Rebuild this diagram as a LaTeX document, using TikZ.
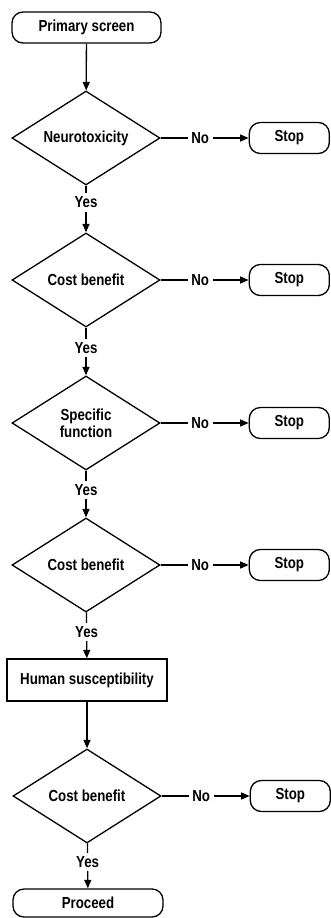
\documentclass[tikz,border=0pt]{standalone}
\usepackage{fontspec}
\setmainfont{Liberation Sans}[FakeStretch=0.83]
\usetikzlibrary{arrows.meta,shapes.geometric,positioning}

\begin{document}
\begin{tikzpicture}[x=1pt, y=-1pt,
		decision/.style={draw, diamond, aspect=1.57, line width=1.3pt, minimum width=148pt, minimum height=94pt, inner sep=0pt, align=center},
		terminal/.style={draw, rectangle, rounded corners=11pt, line width=1.3pt, minimum height=31pt},
		stopbox/.style={terminal, minimum width=80pt, right=88pt of #1},
		process/.style={draw, rectangle, line width=1.3pt, minimum width=160pt, minimum height=42pt},
		flow/.style={line width=1.3pt, -{Triangle[length=8.5pt,width=7pt]}},
		lbl/.style={fill=white, inner sep=3.5pt}]
		\tikzstyle{every node}=[font=\bfseries\fontsize{16}{17}\selectfont]
		\useasboundingbox (0,0) rectangle (330,918);
		% main column
		\node [terminal, minimum width=149pt] (prim) at (86.5,27.5) {Primary screen};
		\node [decision] (neuro) at (86,138) {Neurotoxicity};
		\node [decision] (cost1) at (86,280) {Cost benefit};
		\node [decision] (spec) at (86,423) {Specific\\function};
		\node [decision] (cost2) at (86,565) {Cost benefit};
		\node [process] (human) at (87,680) {Human susceptibility};
		\node [decision] (cost3) at (87,796) {Cost benefit};
		\node [terminal, minimum width=150pt, minimum height=28pt] (proc) at (88,903) {Proceed};
		% stop boxes
		\node [stopbox=neuro] (stop1) {Stop};
		\node [stopbox=cost1] (stop2) {Stop};
		\node [stopbox=spec] (stop3) {Stop};
		\node [stopbox=cost2] (stop4) {Stop};
		\node [stopbox=cost3] (stop5) {Stop};
		% yes branches
		\draw [flow] (prim) -- (neuro);
		\draw [flow] (neuro) -- node [lbl, pos=0.36] {Yes} (cost1);
		\draw [flow] (cost1) -- node [lbl, pos=0.42] {Yes} (spec);
		\draw [flow] (spec) -- node [lbl, pos=0.42] {Yes} (cost2);
		\draw [flow] (cost2) -- node [lbl, pos=0.43] {Yes} (human);
		\draw [flow] (human) -- (cost3);
		\draw [flow] (cost3) -- node [lbl, pos=0.41] {Yes} (proc);
		% no branches
		\draw [flow] (neuro) -- node [lbl, pos=0.45] {No} (stop1);
		\draw [flow] (cost1) -- node [lbl, pos=0.45] {No} (stop2);
		\draw [flow] (spec) -- node [lbl, pos=0.45] {No} (stop3);
		\draw [flow] (cost2) -- node [lbl, pos=0.45] {No} (stop4);
		\draw [flow] (cost3) -- node [lbl, pos=0.45] {No} (stop5);
	\end{tikzpicture}
\end{document}
